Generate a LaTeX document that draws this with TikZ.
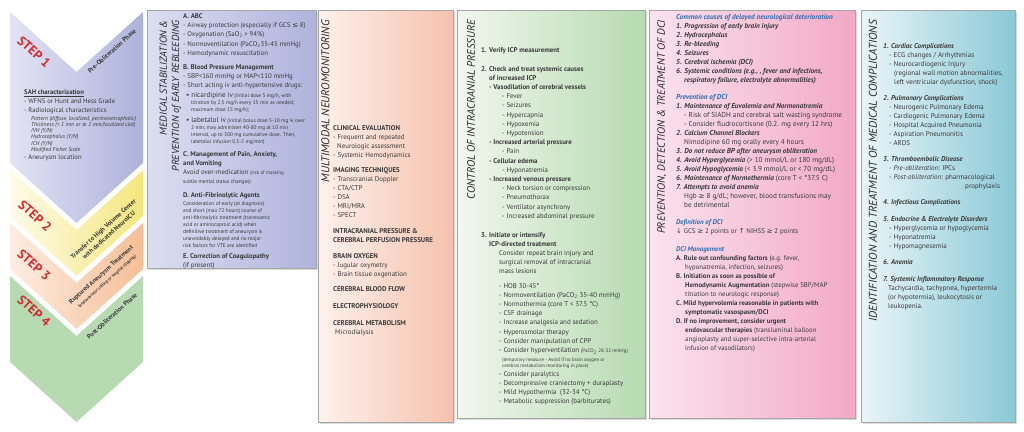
\documentclass[tikz,border=0pt]{standalone}
\usepackage{fontspec}
\setmainfont{PT Sans}
\setsansfont{PT Sans}
\newfontfamily\symf{DejaVu Sans}
\newcommand{\sy}[1]{{\symf #1}}
\newcommand{\sm}[1]{{\fontsize{5}{6}\selectfont #1}}
\newcommand{\bi}[1]{\textbf{\textit{#1}}}
\definecolor{txt}{HTML}{3A3A3A}
\definecolor{ttlc}{HTML}{2A2A2A}
\definecolor{stepred}{HTML}{D42A2E}
\definecolor{dciblue}{HTML}{2F6EB5}
\definecolor{cbL}{HTML}{DCDEF1}\definecolor{cbR}{HTML}{AFB3DC}
\definecolor{cpL}{HTML}{FDF1EC}\definecolor{cpR}{HTML}{F6C2AE}
\definecolor{cgL}{HTML}{F1F7EE}\definecolor{cgR}{HTML}{B6DAB1}
\definecolor{ckL}{HTML}{FBE3EC}\definecolor{ckR}{HTML}{F2A9C6}
\definecolor{ctL}{HTML}{EAF5F8}\definecolor{ctR}{HTML}{8BC9D7}
\definecolor{s1L}{HTML}{E2E3F3}\definecolor{s1R}{HTML}{AEB2DB}
\definecolor{s2L}{HTML}{FEFBE8}\definecolor{s2R}{HTML}{F4E77E}
\definecolor{s3L}{HTML}{FDEDE2}\definecolor{s3R}{HTML}{F6BE96}
\definecolor{s4E}{HTML}{B8DAB3}\definecolor{s4M}{HTML}{E9F3E7}
\begin{document}
\begin{tikzpicture}[x=1pt,y=-1pt,
  body/.style={anchor=north west, inner sep=0pt, align=left, text=txt, font=\fontsize{6.6}{9.1}\selectfont},
  small/.style={body, font=\fontsize{5.3}{7}\selectfont},
  ttl/.style={rotate=90, anchor=east, inner sep=0pt, align=right, text=ttlc, font=\fontsize{11.3}{12.5}\selectfont\itshape},
  steptxt/.style={rotate=-42, inner sep=0pt, text=stepred, font=\fontsize{13}{13}\selectfont\bfseries},
  phasetxt/.style={rotate=42, inner sep=0pt, align=center, text=txt, font=\fontsize{6.4}{8.2}\selectfont\bfseries},
  colbox/.style={draw=black!35, line width=0.6pt},
  shadowbox/.style={fill=black!14}
]
\useasboundingbox (0,0) rectangle (1024,431);
\fill[white] (0,0) rectangle (1024,431);

% ---------------- chevrons ----------------
\shade[left color=s1L, right color=s1R] (10,12) -- (76.5,72) -- (143,12) -- (143,163) -- (76.5,223) -- (10,163) -- cycle;
\shade[left color=s2L, right color=s2R] (10,170) -- (76.5,230) -- (143,170) -- (143,216) -- (76.5,276) -- (10,216) -- cycle;
\shade[left color=s3L, right color=s3R] (10,223) -- (76.5,283) -- (143,223) -- (143,269) -- (76.5,329) -- (10,269) -- cycle;
\shade[left color=s4E, middle color=s4M, right color=s4E] (10,276) -- (76.5,336) -- (143,276) -- (143,362) -- (76.5,422) -- (10,362) -- cycle;

\node[steptxt] (s1) at (34,52) {STEP 1};
\node[steptxt] (s2) at (35,216) {STEP 2};
\node[steptxt] (s3) at (34,265) {STEP 3};
\node[steptxt] (s4) at (34,311) {STEP 4};

\node[phasetxt] (p1) at (112,51) {Pre-Obliteration Phase};
\node[phasetxt] (p2) at (106,232) {Transfer to High Volume Center\\with dedicated NeuroICU};
\node[phasetxt] (p3) at (104,278) {Ruptured Aneurysm Treatment\\{\fontsize{4.3}{5}\selectfont (endovascular coiling or surgical clipping)}};
\node[phasetxt] (p4) at (112,316) {Post-Obliteration Phase};

\node[body, font=\fontsize{6.7}{8.6}\selectfont] (sah) at (24,90) {\textbf{\underline{SAH characterization}}\\- WFNS or Hunt and Hess Grade\\- Radiological characteristics};
\node[body, font=\fontsize{5.7}{6.2}\selectfont\itshape] (sahr) at (31,116) {Pattern (diffuse, localized, perimesencephalic)\\Thickness (< 1 mm or \sy{≥} 1 mm/localized clot)\\IVH (Y/N)\\Hydrocephalus (Y/N)\\ICH (Y/N)\\Modified Fisher Scale};
\node[body, font=\fontsize{6.7}{8.6}\selectfont] (sahl) at (24,155) {- Aneurysm location};

% ---------------- column boxes ----------------
\fill[shadowbox] (148.5,11.5) rectangle (318,270);
\shade[colbox, left color=cbL, right color=cbR] (147,10) rectangle (316,268);
\fill[shadowbox] (319.5,11.5) rectangle (455,424);
\shade[colbox, left color=cpL, right color=cpR] (318,10) rectangle (453,422);
\fill[shadowbox] (458.5,11.5) rectangle (647,420);
\shade[colbox, left color=cgL, right color=cgR] (457,10) rectangle (645,418);
\fill[shadowbox] (650.5,11.5) rectangle (857,420);
\shade[colbox, left color=ckL, right color=ckR] (649,10) rectangle (855,418);
\fill[shadowbox] (862.5,11.5) rectangle (1017,424);
\shade[colbox, left color=ctL, right color=ctR] (861,10) rectangle (1015,422);

% ---------------- titles ----------------
\node[ttl, font=\fontsize{10.2}{12.3}\selectfont\itshape] (t2) at (170.5,20) {MEDICAL STABILIZATION \&\\PREVENTION of EARLY REBLEEDING};
\node[ttl] (t3) at (325.5,20) {MULTIMODAL NEUROMONITORING};
\node[ttl, font=\fontsize{10.9}{12.5}\selectfont\itshape] (t4) at (471,20) {CONTROL OF INTRACRANIAL PRESSURE};
\node[ttl, font=\fontsize{10.6}{12.5}\selectfont\itshape] (t5) at (662,20) {PREVENTION, DETECTION \& TREATMENT OF DCI};
\node[ttl] (t6) at (873,20) {IDENTIFICATION AND TREATMENT OF MEDICAL COMPLICATIONS};

% ---------------- column 2 ----------------
\node[body, font=\fontsize{6.8}{9.4}\selectfont] (c2a) at (183,13) {\textbf{A. ABC}\\- Airway protection (especially if GCS \sy{≤} 8)\\- Oxygenation (SaO\textsubscript{2} > 94\%)\\- Normoventilation (PaCO\textsubscript{2}35-45 mmHg)\\- Hemodynamic resuscitation};
\node[body, font=\fontsize{6.8}{9.4}\selectfont] (c2b) at (183,64) {\textbf{B. Blood Pressure Management}\\- SBP<160 mmHg or MAP<110 mmHg\\- Short acting iv anti-hypertensive drugs:};
\node[small] (c2b1) at (186,92) {{\fontsize{7.2}{7}\selectfont • nicardipine iv} (initial dose 5 mg/h, with\\\hspace*{5pt}titration by 2.5 mg/h every 15 min as needed;\\\hspace*{5pt}maximum dose 15 mg/h);};
\node[small] (c2b2) at (186,117) {{\fontsize{7.2}{7}\selectfont • labetalol iv} (initial bolus dose 5-10 mg iv over\\\hspace*{5pt}2 min; may administer 40-80 mg at 10 min\\\hspace*{5pt}interval, up to 300 mg cumulative dose. Then,\\\hspace*{5pt}labetalol infusion 0.5-2 mg/min)};
\node[body, font=\fontsize{6.8}{9.4}\selectfont] (c2c) at (183,151) {\textbf{C. Management of Pain, Anxiety,}\\\textbf{and Vomiting}\\Avoid over-medication \sm{(risk of masking}};
\node[small] (c2c1) at (183,180) {subtle mental status changes)};
\node[body, font=\fontsize{6.8}{9.4}\selectfont] (c2d) at (183,192) {\textbf{D. Anti-Fibrinolytic Agents}};
\node[small] (c2d1) at (183,202) {Consideration of early (at diagnosis)\\and short (max 72 hours) course of\\anti-fibrinolytic treatment (tranexamic\\acid or aminocaproic acid) when\\definitive treatment of aneurysm is\\unavoidably delayed and no major\\risk factors for VTE are identified};
\node[body, font=\fontsize{6.8}{9.2}\selectfont] (c2e) at (183,253) {\textbf{E. Correction of Coagulopathy}\\(if present)};

% ---------------- column 3 ----------------
\tikzset{b3/.style={body, font=\fontsize{6.9}{9.1}\selectfont}}
\node[b3] (c3a) at (333,125) {\textbf{CLINICAL EVALUATION}\\- Frequent and repeated\\\hspace*{4pt}Neurologic assessment\\- Systemic Hemodynamics};
\node[b3] (c3b) at (333,167) {\textbf{IMAGING TECHNIQUES}\\- Transcranial Doppler\\- CTA/CTP\\- DSA\\- MRI/MRA\\- SPECT};
\node[b3] (c3c) at (333,228) {\textbf{INTRACRANIAL PRESSURE \&}\\\textbf{CEREBRAL PERFUSION PRESSURE}};
\node[b3] (c3d) at (333,253) {\textbf{BRAIN OXYGEN}\\- Jugular oxymetry\\- Brain tissue oxgenation};
\node[b3] (c3e) at (333,286) {\textbf{CEREBRAL BLOOD FLOW}};
\node[b3] (c3f) at (333,303) {\textbf{ELECTROPHYSIOLOGY}};
\node[b3] (c3g) at (333,320) {\textbf{CEREBRAL METABOLISM}\\\hspace*{2pt}Microdialysis};

% ---------------- column 4 ----------------
\tikzset{b4/.style={body, font=\fontsize{6.9}{9.2}\selectfont}}
\node[b4] (c4a) at (481,47) {\textbf{1. Verify ICP measurement}};
\node[b4] (c4b) at (481,66) {\textbf{2. Check and treat systemic causes}\\\hspace*{8pt}\textbf{of increased ICP}\\\hspace*{8pt}\textbf{- Vasodilation of cerebral vessels}\\\hspace*{21pt}- Fever\\\hspace*{21pt}- Seizures\\\hspace*{21pt}- Hypercapnia\\\hspace*{21pt}- Hypoxemia\\\hspace*{21pt}- Hypotension\\\hspace*{8pt}\textbf{- Increased arterial pressure}\\\hspace*{21pt}- Pain\\\hspace*{8pt}\textbf{- Cellular edema}\\\hspace*{21pt}- Hyponatremia\\\hspace*{8pt}\textbf{- Increased venous pressure}\\\hspace*{21pt}- Neck torsion or compression\\\hspace*{21pt}- Pneumothorax\\\hspace*{21pt}- Ventilator asynchrony\\\hspace*{21pt}- Increased abdominal pressure};
\node[b4] (c4c) at (481,232) {\textbf{3. Initiate or intensify}\\\hspace*{8pt}\textbf{ICP-directed treatment}\\\hspace*{18pt}Consider repeat brain injury and\\\hspace*{18pt}surgical removal of intracranial\\\hspace*{18pt}mass lesions};
\node[b4] (c4d) at (499,283) {- HOB 30-45°\\- Normoventilation (PaCO\textsubscript{2} 35-40 mmHg)\\- Normothermia (core T < 37.5 °C)\\- CSF drainage\\- Increase analgesia and sedation\\- Hyperosmolar therapy\\- Consider manipulation of CPP\\- Consider hyperventilation \sm{(PaCO\textsubscript{2} 28-32 mmHg)}};
\node[small, font=\fontsize{4.9}{6}\selectfont] (c4e) at (502,357.5) {(temporary measure - Avoid if no brain oxygen or\\cerebral metabolism monitoring in place)};
\node[b4] (c4f) at (499,371) {- Consider paralytics\\- Decompressive craniectomy + duraplasty\\- Mild Hypothermia\ \ (32-34 °C)\\- Metabolic suppression (barbiturates)};

% ---------------- column 5 ----------------
\node[body, font=\fontsize{7.2}{9}\selectfont] (c5a) at (676,14) {{\color{dciblue}\bi{Common causes of delayed neurological deterioration}}\\\bi{1. Progression of early brain injury}\\\bi{2. Hydrocephalus}\\\bi{3. Re-bleeding}\\\bi{4. Seizures}\\\bi{5. Cerebral ischemia (DCI)}\\\bi{6. Systemic conditions (e.g., , fever and infections,}\\\hspace*{8pt}\bi{respiratory failure, electrolyte abnormalities)}};
\node[body, font=\fontsize{7.2}{9}\selectfont] (c5b) at (676,94) {{\color{dciblue}\bi{Prevention of DCI}}\\\bi{1. Maintenance of Euvolemia and Normonatremia}\\\hspace*{8pt}- Risk of SIADH and cerebral salt wasting syndrome\\\hspace*{8pt}- Consider fludrocortisone (0.2. mg every 12 hrs)\\\bi{2. Calcium Channel Blockers}\\\hspace*{8pt}Nimodipine 60 mg orally every 4 hours\\\bi{3. Do not reduce BP after aneurysm obliteration}\\\bi{4. Avoid Hyperglycemia} (> 10 mmol/L or 180 mg/dL)\\\bi{5. Avoid Hypoglycemia} (< 3.9 mmol/L or < 70 mg/dL)\\\bi{6. Maintenance of Normothermia} (core T < °37.5 C)\\\bi{7. Attempts to avoid anemia}\\\hspace*{8pt}Hgb \sy{≥} 8 g/dL; however, blood transfusions may\\\hspace*{8pt}be detrimental};
\node[body, font=\fontsize{6.9}{9.5}\selectfont] (c5c) at (676,219) {{\color{dciblue}\bi{Definition of DCI}}\\\sy{↓} GCS \sy{≥} 2 points or \sy{↑} NIHSS \sy{≥} 2 points};
\node[body, font=\fontsize{6.8}{9}\selectfont] (c5d) at (676,246) {{\color{dciblue}\bi{DCI Management}}\\\textbf{A. Rule out confounding factors} (e.g. fever,\\\hspace*{9pt}hyponatremia, infection, seizures)\\\textbf{B. Initiation as soon as possible of}\\\hspace*{9pt}\textbf{Hemodynamic Augmentation} (stepwise SBP/MAP\\\hspace*{9pt}titration to neurologic response)\\\textbf{C. Mild hypervolemia reasonable in patients with}\\\hspace*{9pt}\textbf{symptomatic vasospasm/DCI}\\\textbf{D. If no improvement, consider urgent}\\\hspace*{9pt}\textbf{endovascular therapies} (transluminal balloon\\\hspace*{9pt}angioplasty and super-selective intra-arterial\\\hspace*{9pt}infusion of vasodilators)};

% ---------------- column 6 ----------------
\tikzset{b6/.style={body, font=\fontsize{7}{9.1}\selectfont}}
\node[b6] (c6a) at (883,43) {\bi{1. Cardiac Complications}\\\hspace*{6pt}- ECG changes / Arrhythmias\\\hspace*{6pt}- Neurocardiogenic Injury\\\hspace*{11pt}(regional wall motion abnormalities,\\\hspace*{11pt}left ventricular dysfunction, shock)};
\node[b6] (c6b) at (883,95) {\bi{2. Pulmonary Complications}\\\hspace*{6pt}- Neurogenic Pulmonary Edema\\\hspace*{6pt}- Cardiogenic Pulmonary Edema\\\hspace*{6pt}- Hospital Acquired Pneumonia\\\hspace*{6pt}- Aspiration Pneumonitis\\\hspace*{6pt}- ARDS};
\node[b6] (c6c) at (883,156) {\bi{3. Thromboembolic Disease}\\\hspace*{6pt}- \textit{Pre-obliteration}: IPCs\\\hspace*{6pt}- \textit{Post-obliteration}: pharmacological\\\hspace*{82pt}prophylaxis};
\node[b6] (c6d) at (883,199) {\bi{4. Infectious Complications}};
\node[b6] (c6e) at (883,216) {\bi{5. Endocrine \& Electrolyte Disorders}\\\hspace*{6pt}- Hyperglycemia or hypoglycemia\\\hspace*{6pt}- Hyponatremia\\\hspace*{6pt}- Hypomagnesemia};
\node[b6] (c6f) at (883,259) {\bi{6. Anemia}};
\node[b6] (c6g) at (883,276) {\bi{7. Systemic Inflammatory Response}\\\hspace*{5pt}Tachycardia, tachypnea, hypertermia\\\hspace*{5pt}(or hypotermia), leukocytosis or\\\hspace*{5pt}leukopenia.};
\end{tikzpicture}
\end{document}
